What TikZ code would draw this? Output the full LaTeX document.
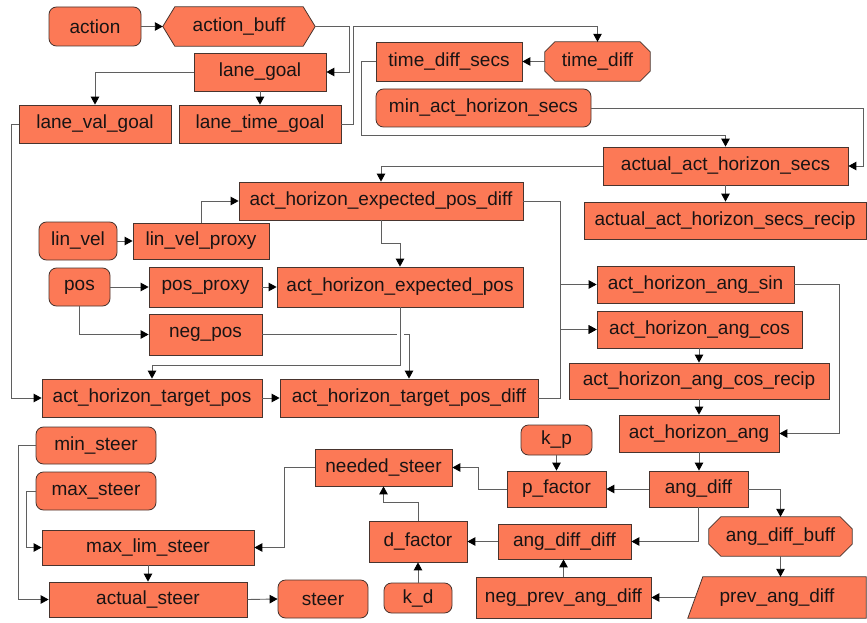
\documentclass[tikz,border=0pt]{standalone}
\usepackage{fontspec}
\setmainfont{Liberation Sans}
\usetikzlibrary{arrows.meta,backgrounds}
\definecolor{boxfill}{RGB}{252,121,86}
\definecolor{bordercol}{RGB}{72,52,46}
\definecolor{linecol}{RGB}{95,95,95}
\definecolor{txtcol}{RGB}{25,20,20}
\newcommand\octpath[2]{\filldraw[shapefill] ([xshift=#2]#1.north west) -- ([xshift=-#2]#1.north east) -- ([yshift=-#2]#1.north east) -- ([yshift=#2]#1.south east) -- ([xshift=-#2]#1.south east) -- ([xshift=#2]#1.south west) -- ([yshift=#2]#1.south west) -- ([yshift=-#2]#1.north west) -- cycle;}
\tikzset{
  lbl/.style={inner sep=0pt, text=txtcol, font=\fontsize{19}{22}\selectfont},
  box/.style={lbl, draw=bordercol, fill=boxfill, line width=0.8pt},
  rbox/.style={box, rounded corners=7.5pt},
  shapefill/.style={draw=bordercol, fill=boxfill, line width=0.8pt},
  conn/.style={draw=linecol, line width=0.9pt, -{Triangle[length=8pt,width=8.5pt,color=black,fill=black]}},
}
\begin{document}
\begin{tikzpicture}[x=1pt,y=-1pt]
\useasboundingbox (0,0) rectangle (867,623);
% top area
\node[rbox, minimum width=92pt, minimum height=39pt] (action) at (95,26.5) {action};
\node[lbl, minimum width=152pt, minimum height=39pt] (ab) at (239,26.5) {action\_buff};
\node[box, minimum width=132pt, minimum height=38pt] (lg) at (260,72) {lane\_goal};
\node[box, minimum width=152pt, minimum height=38pt] (lvg) at (95,124) {lane\_val\_goal};
\node[box, minimum width=162pt, minimum height=38pt] (ltg) at (260,124) {lane\_time\_goal};
\node[box, minimum width=146pt, minimum height=39pt] (tds) at (449,61.5) {time\_diff\_secs};
\node[lbl, minimum width=105pt, minimum height=39pt] (td) at (597.5,61.5) {time\_diff};
\node[rbox, minimum width=215pt, minimum height=38pt] (mahs) at (483.5,108) {min\_act\_horizon\_secs};
\node[box, minimum width=245pt, minimum height=38pt] (aahs) at (725.5,166) {actual\_act\_horizon\_secs};
\node[box, minimum width=282pt, minimum height=37pt] (aahsr) at (725,220.5) {actual\_act\_horizon\_secs\_recip};
% middle area
\node[box, minimum width=284pt, minimum height=38pt] (ahepd) at (381,201) {act\_horizon\_expected\_pos\_diff};
\node[rbox, minimum width=78pt, minimum height=38pt] (linvel) at (78,241) {lin\_vel};
\node[box, minimum width=136pt, minimum height=36pt] (lvp) at (201,241) {lin\_vel\_proxy};
\node[rbox, minimum width=61pt, minimum height=38pt] (pos) at (79.5,287) {pos};
\node[box, minimum width=113pt, minimum height=40pt] (pp) at (205.5,287) {pos\_proxy};
\node[box, minimum width=246pt, minimum height=40pt] (ahep) at (400,287) {act\_horizon\_expected\_pos};
\node[box, minimum width=113pt, minimum height=41pt] (negpos) at (205.5,334.5) {neg\_pos};
\node[box, minimum width=220pt, minimum height=38pt] (tp) at (152,398) {act\_horizon\_target\_pos};
\node[box, minimum width=258pt, minimum height=38pt] (tpd) at (409,398) {act\_horizon\_target\_pos\_diff};
% right column
\node[box, minimum width=197pt, minimum height=37pt] (sin) at (695.5,284.5) {act\_horizon\_ang\_sin};
\node[box, minimum width=205pt, minimum height=37pt] (cos) at (699.5,329.5) {act\_horizon\_ang\_cos};
\node[box, minimum width=260pt, minimum height=36pt] (cosr) at (699,381) {act\_horizon\_ang\_cos\_recip};
\node[box, minimum width=160pt, minimum height=37pt] (ang) at (699,433.5) {act\_horizon\_ang};
\node[rbox, minimum width=71pt, minimum height=30pt] (kp) at (556.5,440) {k\_p};
\node[box, minimum width=99pt, minimum height=36pt] (pf) at (556.5,489) {p\_factor};
\node[box, minimum width=99pt, minimum height=36pt] (ad) at (698.5,489) {ang\_diff};
\node[lbl, minimum width=143pt, minimum height=39pt] (adb) at (780.5,536.5) {ang\_diff\_buff};
\node[box, minimum width=133pt, minimum height=35pt] (add) at (564.5,541.5) {ang\_diff\_diff};
\node[lbl, minimum width=178pt, minimum height=41pt] (pad) at (777,597.5) {prev\_ang\_diff};
\node[box, minimum width=175pt, minimum height=41pt] (npad) at (563.5,597.5) {neg\_prev\_ang\_diff};
% bottom left
\node[box, minimum width=137pt, minimum height=37pt] (ns) at (383.5,467.5) {needed\_steer};
\node[box, minimum width=98pt, minimum height=41pt] (df) at (418,541.5) {d\_factor};
\node[rbox, minimum width=68pt, minimum height=30pt] (kd) at (418,598) {k\_d};
\node[rbox, minimum width=120pt, minimum height=37pt] (mins) at (96,445.5) {min\_steer};
\node[rbox, minimum width=120pt, minimum height=38pt] (maxs) at (96,491) {max\_steer};
\node[box, minimum width=212pt, minimum height=35pt] (mls) at (148,547.5) {max\_lim\_steer};
\node[box, minimum width=198pt, minimum height=35pt] (as) at (148,599.5) {actual\_steer};
\node[rbox, minimum width=90pt, minimum height=38pt] (steer) at (323,599) {steer};
% special shapes
\begin{scope}[on background layer]
\filldraw[shapefill] (ab.west) -- ([xshift=12pt]ab.north west) -- ([xshift=-12pt]ab.north east) -- (ab.east) -- ([xshift=-12pt]ab.south east) -- ([xshift=12pt]ab.south west) -- cycle;
\octpath{td}{10pt}
\octpath{adb}{12pt}
\filldraw[shapefill] ([xshift=15pt]pad.north west) -- (pad.north east) -- (pad.south east) -- (pad.south west) -- cycle;
\end{scope}
% connectors
\draw[conn] (action.east) -- (ab.west);
\draw[conn] (ab.east) -- ++(34,0) |- (lg.east);
\draw[conn] (lg.west) -| (lvg.north);
\draw[conn] (lg.south) -- (ltg.north);
\draw[conn] (ltg.east) -- ++(12,0) |- ([yshift=15pt]td.north) -- (td.north);
\draw[conn] (td.west) -- (tds.east);
\draw[conn] (tds.west) -- ++(-14,0) |- ([yshift=11pt]aahs.north) -- (aahs.north);
\draw[conn] (mahs.east) -| ([xshift=15pt]aahs.east) -- (aahs.east);
\draw[conn] (aahs.south) -- (aahs.south |- aahsr.north);
\draw[conn] (aahs.west) -| (ahepd.north);
\draw[conn] (linvel.east) -- (lvp.west);
\draw[conn] (lvp.north) |- (ahepd.west);
\draw[conn] (pos.east) -- (pp.west);
\draw[conn] (pp.east) -- (ahep.west);
\draw[conn] (ahepd.south) -- ++(0,23) -| (ahep.north);
\draw[conn] (pos.south) |- (negpos.west);
\draw[conn] (negpos.east) -| (tpd.north);
\draw[white, line width=7pt] ([yshift=-6pt]ahep.south) -- ++(0,40);
\draw[conn] (ahep.south) -- ++(0,58) -| (tp.north);
\draw[conn] (tp.east) -- (tpd.west);
\draw[conn] (lvg.west) -- ++(-7,0) |- (tp.west);
\draw[conn] (ahepd.east) -- ++(37,0) |- (sin.west);
\draw[conn] (ahepd.east) -- ++(37,0) |- (cos.west);
\draw[conn] (tpd.east) -- ++(22,0) |- (cos.west);
\draw[conn] (sin.east) -- ++(45,0) |- (ang.east);
\draw[conn] (cosr.north |- cos.south) -- (cosr.north);
\draw[conn] (cosr.south) -- (ang.north);
\draw[conn] (ang.south) -- (ang.south |- ad.north);
\draw[conn] (ad.west) -- (pf.east);
\draw[conn] (kp.south) -- (pf.north);
\draw[conn] (pf.west) -- ++(-28,0) |- (ns.east);
\draw[conn] (ad.east) -| (adb.north);
\draw[conn] (ad.south) |- (add.east);
\draw[conn] (add.west) -- (df.east);
\draw[conn] (adb.south) -- (adb.south |- pad.north);
\draw[conn] ([xshift=7.5pt]pad.west) -- (npad.east);
\draw[conn] (npad.north) -- (npad.north |- add.south);
\draw[conn] (kd.north) -- (df.south);
\draw[conn] (df.north) -- ++(0,-18) -| (ns.south);
\draw[conn] (ns.west) -- ++(-30,0) |- (mls.east);
\draw[conn] (maxs.west) -- ++(-9,0) |- (mls.west);
\draw[conn] (mins.west) -- ++(-17,0) |- (as.west);
\draw[conn] (mls.south) -- (as.north);
\draw[conn] (as.east) -- (steer.west);
\end{tikzpicture}
\end{document}
